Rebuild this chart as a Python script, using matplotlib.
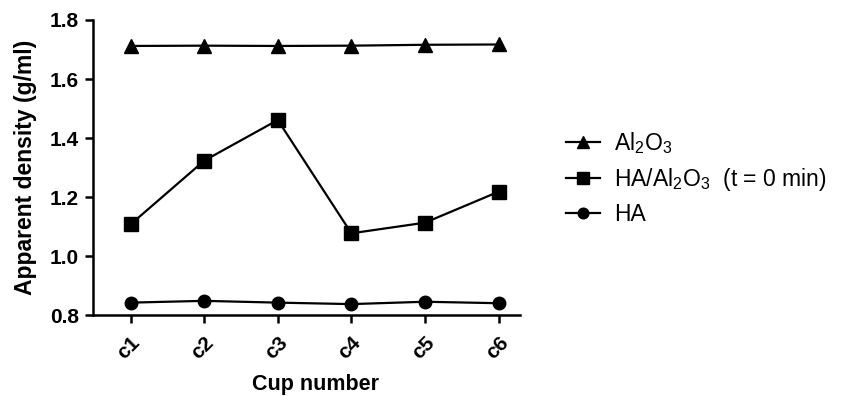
import numpy as np
import matplotlib
matplotlib.use("Agg")
import matplotlib.pyplot as plt

plt.rcParams["font.family"] = ["Liberation Sans", "DejaVu Sans"]
plt.rcParams["mathtext.fontset"] = "custom"
plt.rcParams["mathtext.rm"] = "Liberation Sans"
plt.rcParams["mathtext.default"] = "regular"

cups = ["c1", "c2", "c3", "c4", "c5", "c6"]
al2o3 = [1.712, 1.713, 1.712, 1.713, 1.716, 1.717]
ha_al2o3 = [1.107, 1.323, 1.461, 1.077, 1.113, 1.218]
ha = [0.842, 0.848, 0.842, 0.837, 0.845, 0.840]

x = np.arange(1, len(cups) + 1)

fig = plt.figure(figsize=(8.43, 3.96), dpi=100)
ax = fig.add_axes([0.1103, 0.2045, 0.5065, 0.745])

ax.plot(x, al2o3, color="black", lw=1.6, marker="^", ms=10, label=r"Al$_2$O$_3$")
ax.plot(x, ha_al2o3, color="black", lw=1.6, marker="s", ms=10,
        label=r"HA/Al$_2$O$_3$  (t = 0 min)")
ax.plot(x, ha, color="black", lw=1.6, marker="o", ms=9, label="HA")

ax.set_xlim(0.49, 6.29)
ax.set_ylim(0.8, 1.8)
ax.set_yticks([0.8, 1.0, 1.2, 1.4, 1.6, 1.8])
ax.set_yticklabels(["0.8", "1.0", "1.2", "1.4", "1.6", "1.8"])
ax.set_xticks(x)
ax.set_xticklabels(cups, rotation=45, ha="right", rotation_mode="anchor")

for lbl in ax.get_xticklabels() + ax.get_yticklabels():
    lbl.set_fontweight("bold")
    lbl.set_fontsize(15)

ax.spines["top"].set_visible(False)
ax.spines["right"].set_visible(False)
ax.spines["left"].set_linewidth(1.8)
ax.spines["bottom"].set_linewidth(1.8)
ax.tick_params(direction="out", length=6, width=1.8, pad=4)
ax.tick_params(axis="x", pad=7)

ax.set_ylabel("Apparent density (g/ml)", fontsize=16.5, fontweight="bold", labelpad=9)
ax.set_xlabel("Cup number", fontsize=15.5, fontweight="bold", labelpad=10)
ax.xaxis.set_label_coords(0.52, -0.2)

fig.legend(loc="center left", bbox_to_anchor=(0.647, 0.55), frameon=False,
           fontsize=16.5, handlelength=1.5, labelspacing=0.45, handletextpad=0.6,
           markerscale=0.85)

fig.savefig("out.png", dpi=100)
